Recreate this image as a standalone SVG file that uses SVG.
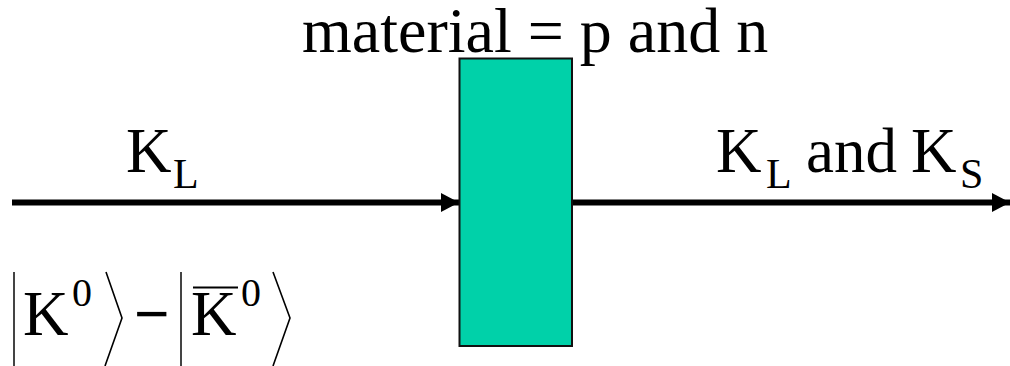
<svg xmlns="http://www.w3.org/2000/svg" width="1010" height="366" viewBox="0 0 1010 366">
  <style>
    .t { font-family: "Liberation Serif", "Times New Roman", serif; fill: #000; }
    .big { font-size: 63px; }
    .sub { font-size: 42px; }
    .sup { font-size: 40px; }
    .bar { stroke: #444; stroke-width: 2; fill: none; }
    .ang { stroke: #000; stroke-width: 1.6; fill: none; }
    .conn { stroke: #000; stroke-width: 6; fill: none; }
  </style>
  <defs>
    <marker id="ah" markerUnits="userSpaceOnUse" markerWidth="20" markerHeight="20" refX="18" refY="9.5" orient="auto">
      <path d="M0,0 L18,9.5 L0,19 Z" fill="#000"/>
    </marker>
  </defs>
  <rect width="1010" height="366" fill="#fff"/>

  <g id="connectors">
    <line class="conn" x1="12" y1="202.5" x2="459" y2="202.5" marker-end="url(#ah)"/>
    <line class="conn" x1="572" y1="202.5" x2="1010" y2="202.5" marker-end="url(#ah)"/>
  </g>

  <g id="material">
    <rect x="459.5" y="58.5" width="112.5" height="287.5" fill="#00D1A9" stroke="#111" stroke-width="2"/>
  </g>

  <g id="title">
    <text class="t" x="302" y="52" font-size="64">material = p and n</text>
  </g>

  <g id="label-in">
    <text class="t big" x="126" y="172">K</text>
    <text class="t sub" x="173" y="188">L</text>
  </g>

  <g id="label-out">
    <text class="t big" x="716" y="172">K</text>
    <text class="t sub" x="766" y="188">L</text>
    <text class="t big" x="806" y="172">and</text>
    <text class="t big" x="911" y="172">K</text>
    <text class="t sub" x="960" y="188">S</text>
  </g>

  <g id="state">
    <line class="bar" x1="14" y1="272" x2="14" y2="366"/>
    <text class="t big" x="23" y="335">K</text>
    <text class="t sup" x="72" y="306">0</text>
    <polyline class="ang" points="106,272 122,318 105,366"/>
    <text class="t big" x="134" y="335" font-weight="bold">−</text>
    <line class="bar" x1="181" y1="272" x2="181" y2="366"/>
    <line stroke="#000" stroke-width="2" x1="193" y1="287.5" x2="238" y2="287.5"/>
    <text class="t big" x="191" y="335">K</text>
    <text class="t sup" x="241" y="306">0</text>
    <polyline class="ang" points="273,272 290,318 273,366"/>
  </g>
</svg>
